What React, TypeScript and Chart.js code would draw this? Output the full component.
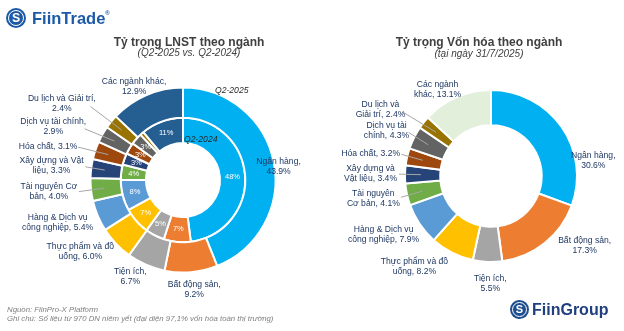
import React, { useEffect, useRef } from "react";
import { Chart, registerables } from "chart.js";

Chart.register(...registerables);

// ---------- data ----------
const sectors = [
  "Ngân hàng",
  "Bất động sản",
  "Tiện ích",
  "Thực phẩm và đồ uống",
  "Hàng & Dịch vụ công nghiệp",
  "Tài nguyên Cơ bản",
  "Xây dựng và Vật liệu",
  "Hóa chất",
  "Dịch vụ tài chính",
  "Du lịch và Giải trí",
  "Các ngành khác",
];
const lnstQ2_2025 = [43.9, 9.2, 6.7, 6.0, 5.4, 4.0, 3.3, 3.1, 2.9, 2.4, 12.9];
const lnstQ2_2024 = [48, 7, 5, 7, 8, 4, 3, 3, 3, 1, 11];
const vonHoa = [30.6, 17.3, 5.5, 8.2, 7.9, 4.1, 3.4, 3.2, 4.3, 2.4, 13.1];

// label texts as wrapped in the picture (value is appended)
const lnstLabelNames = [
  "Ngân hàng,\n",
  "Bất động sản,\n",
  "Tiện ích,\n",
  "Thực phẩm và đồ\nuống, ",
  "Hàng & Dịch vụ\ncông nghiệp, ",
  "Tài nguyên Cơ\nbản, ",
  "Xây dựng và Vật\nliệu, ",
  "Hóa chất, ",
  "Dịch vụ tài chính,\n",
  "Du lịch và Giải trí,\n",
  "Các ngành khác,\n",
];
const vonHoaLabelNames = [
  "Ngân hàng,\n",
  "Bất động sản,\n",
  "Tiện ích,\n",
  "Thực phẩm và đồ\nuống, ",
  "Hàng & Dịch vụ\ncông nghiệp, ",
  "Tài nguyên\nCơ bản, ",
  "Xây dựng và\nVật liệu, ",
  "Hóa chất, ",
  "Dịch vụ tài\nchính, ",
  "Du lịch và\nGiải trí, ",
  "Các ngành\nkhác, ",
];

const sectorColors = [
  "#00B0F0",
  "#ED7D31",
  "#A5A5A5",
  "#FFC000",
  "#5B9BD5",
  "#70AD47",
  "#264478",
  "#9E480E",
  "#636363",
  "#997300",
];
const otherColorLNST = "#255E91";
const otherColorVonHoa = "#E2EFDA";

// label placement tweaks (by slice index): [angle shift in degrees, radial shift in px]
const lnstLabelNudges: Record<number, [number, number]> = {
  0: [2, -26],
  2: [3.7, -2],
  3: [3.4, 0],
  5: [0, 6],
  7: [-2, 11],
  8: [-3.5, 11],
  9: [-2.3, 17],
  10: [0, -9],
};
const vonHoaLabelNudges: Record<number, [number, number]> = {
  0: [25.5, -12.5],
  1: [-10.6, 3],
  2: [-2, 4],
  3: [7.8, 6.5],
  9: [-4.5, 14.5],
  10: [-5, -6],
};

const FONT = '"Liberation Sans", Arial, sans-serif';
const LABEL_COLOR = "#1F3864";

// ---------- label plugin ----------
const sliceLabels = {
  id: "sliceLabels",
  afterDraw(chart: any, _args: any, o: any) {
    if (!o || !o.names) return;
    const ctx = chart.ctx as CanvasRenderingContext2D;
    const meta = chart.getDatasetMeta(0);
    const values = chart.data.datasets[0].data as number[];
    ctx.save();
    ctx.font = `${o.fontSize}px ${FONT}`;
    const items = meta.data.map((arc: any, i: number) => {
      const p = arc.getProps(
        ["x", "y", "startAngle", "endAngle", "outerRadius", "innerRadius"],
        true
      );
      const mid = (p.startAngle + p.endAngle) / 2;
      const nudge = (o.nudges && o.nudges[i]) || [0, 0];
      const la = mid + nudge[0] * (Math.PI / 180);
      const ux = Math.cos(la);
      const uy = Math.sin(la);
      const lines = (o.names[i] + values[i].toFixed(1) + "%").split("\n");
      const w = Math.max(...lines.map((l: string) => ctx.measureText(l).width));
      const h = lines.length * o.lineHeight;
      const d = p.outerRadius + o.pad + nudge[1];
      let cx = p.x + d * ux + (w / 2) * ux;
      let cy = p.y + d * uy + (h / 2) * uy;
      if (o.maxX != null && cx + w / 2 > o.maxX) cx = o.maxX - w / 2;
      return { ...p, mid, ux, uy, w, h, cx, cy, lines, value: values[i] };
    });
    // simple vertical overlap resolution
    for (let iter = 0; iter < 30; iter++) {
      let moved = false;
      for (let a = 0; a < items.length; a++) {
        for (let b = a + 1; b < items.length; b++) {
          const A = items[a];
          const B = items[b];
          const ox =
            Math.min(A.cx + A.w / 2, B.cx + B.w / 2) -
            Math.max(A.cx - A.w / 2, B.cx - B.w / 2);
          const oy =
            Math.min(A.cy + A.h / 2, B.cy + B.h / 2) -
            Math.max(A.cy - A.h / 2, B.cy - B.h / 2);
          if (ox > 0 && oy > -1) {
            const dd = (oy + 1) / 2;
            if (A.cy < B.cy) {
              A.cy -= dd;
              B.cy += dd;
            } else {
              A.cy += dd;
              B.cy -= dd;
            }
            moved = true;
          }
        }
      }
      if (!moved) break;
    }
    // leader lines
    ctx.strokeStyle = o.leaderColor;
    ctx.lineWidth = 1;
    items.forEach((it: any) => {
      if (it.value >= o.leaderBelow) return;
      const sx = it.cx - (it.w / 2 + 2) * it.ux;
      const sy = it.cy - (it.h / 2) * it.uy * 0.5;
      const r = it.outerRadius - (it.outerRadius - it.innerRadius) * 0.45;
      const ex = it.x + r * Math.cos(it.mid);
      const ey = it.y + r * Math.sin(it.mid);
      ctx.beginPath();
      ctx.moveTo(sx, sy);
      ctx.lineTo(ex, ey);
      ctx.stroke();
    });
    // label text
    ctx.fillStyle = o.color;
    ctx.textAlign = "center";
    ctx.textBaseline = "middle";
    items.forEach((it: any) => {
      it.lines.forEach((l: string, k: number) => {
        ctx.fillText(l, it.cx, it.cy - it.h / 2 + o.lineHeight * (k + 0.5));
      });
    });
    // inner ring values
    if (o.innerDataset != null) {
      const m1 = chart.getDatasetMeta(o.innerDataset);
      const v1 = chart.data.datasets[o.innerDataset].data as number[];
      ctx.font = `${o.innerFontSize}px ${FONT}`;
      ctx.fillStyle = "#FFFFFF";
      m1.data.forEach((arc: any, i: number) => {
        if (v1[i] < 2) return;
        const p = arc.getProps(
          ["x", "y", "startAngle", "endAngle", "outerRadius", "innerRadius"],
          true
        );
        const a = (p.startAngle + p.endAngle) / 2;
        const r = (p.outerRadius + p.innerRadius) / 2;
        ctx.fillText(v1[i] + "%", p.x + r * Math.cos(a), p.y + r * Math.sin(a));
      });
    }
    // ring tags
    if (o.ringTags) {
      const p0 = meta.data[0].getProps(["x", "y", "outerRadius"], true);
      const m1 = chart.getDatasetMeta(1);
      const p1 = m1.data[0].getProps(["innerRadius"], true);
      ctx.font = `italic ${o.fontSize}px ${FONT}`;
      ctx.fillStyle = "#262626";
      ctx.textAlign = "left";
      ctx.fillText(o.ringTags[0], p0.x + p0.outerRadius * 0.346, p0.y - p0.outerRadius + 3.5);
      ctx.fillText(o.ringTags[1], p0.x + 1, p0.y - p1.innerRadius - 3);
    }
    ctx.restore();
  },
};

export default function App() {
  const leftRef = useRef<HTMLCanvasElement | null>(null);
  const rightRef = useRef<HTMLCanvasElement | null>(null);

  useEffect(() => {
    const leftColors = [...sectorColors, otherColorLNST];
    const rightColors = [...sectorColors, otherColorVonHoa];
    const common = {
      responsive: false,
      animation: false,
      events: [],
      rotation: 0,
    };
    const labelCommon = {
      pad: 8,
      fontSize: 8.6,
      lineHeight: 10,
      color: LABEL_COLOR,
      leaderBelow: 4.5,
      leaderColor: "#A6A6A6",
    };
    const left = new Chart(leftRef.current!, {
      type: "doughnut",
      data: {
        labels: sectors,
        datasets: [
          {
            label: "Q2-2025",
            data: lnstQ2_2025,
            backgroundColor: leftColors,
            borderColor: "#FFFFFF",
            borderWidth: 2,
            weight: 30,
          },
          {
            label: "Q2-2024",
            data: lnstQ2_2024,
            backgroundColor: leftColors,
            borderColor: "#FFFFFF",
            borderWidth: 2,
            weight: 25,
          },
        ],
      },
      options: {
        ...common,
        radius: 92.5,
        cutout: "40%",
        layout: { padding: { left: 0, right: 258, top: 29, bottom: 0 } },
        plugins: {
          legend: { display: false },
          tooltip: { enabled: false },
          sliceLabels: {
            ...labelCommon,
            names: lnstLabelNames,
            nudges: lnstLabelNudges,
            maxX: 302,
            innerDataset: 1,
            innerFontSize: 7.5,
            ringTags: ["Q2-2025", "Q2-2024"],
          },
        },
      } as any,
      plugins: [sliceLabels],
    } as any);
    const right = new Chart(rightRef.current!, {
      type: "doughnut",
      data: {
        labels: sectors,
        datasets: [
          {
            label: "Vốn hóa",
            data: vonHoa,
            backgroundColor: rightColors,
            borderColor: "#FFFFFF",
            borderWidth: 2,
          },
        ],
      },
      options: {
        ...common,
        radius: 86,
        cutout: "59%",
        layout: { padding: { left: 358, right: 0, top: 21, bottom: 0 } },
        plugins: {
          legend: { display: false },
          tooltip: { enabled: false },
          sliceLabels: {
            ...labelCommon,
            names: vonHoaLabelNames,
            nudges: vonHoaLabelNudges,
            maxX: 620,
          },
        },
      } as any,
      plugins: [sliceLabels],
    } as any);
    return () => {
      left.destroy();
      right.destroy();
    };
  }, []);

  const abs = (s: any) => ({ position: "absolute" as const, ...s });

  return (
    <div
      style={{
        position: "fixed",
        left: 0,
        top: 0,
        width: 624,
        height: 331,
        background: "#FFFFFF",
        overflow: "hidden",
        fontFamily: FONT,
      }}
    >
      <canvas ref={leftRef} width={624} height={331} style={abs({ left: 0, top: 0 })} />
      <canvas ref={rightRef} width={624} height={331} style={abs({ left: 0, top: 0 })} />

      {/* FiinTrade logo */}
      <div
        style={abs({
          left: 6,
          top: 8,
          width: 20,
          height: 20,
          borderRadius: "50%",
          background: "#1C5AA8",
          display: "flex",
          alignItems: "center",
          justifyContent: "center",
        })}
      >
        <div
          style={{
            width: 14,
            height: 14,
            borderRadius: "50%",
            border: "1.5px solid #FFFFFF",
            color: "#FFFFFF",
            fontWeight: 700,
            fontSize: 12,
            lineHeight: "14px",
            textAlign: "center",
          }}
        >
          S
        </div>
      </div>
      <div
        style={abs({
          left: 32,
          top: 8,
          fontSize: 16.5,
          fontWeight: 700,
          color: "#1C5AA8",
          lineHeight: "20px",
          whiteSpace: "nowrap",
        })}
      >
        FiinTrade<span style={{ fontSize: 6, verticalAlign: "top", lineHeight: "10px" }}>®</span>
      </div>

      {/* Titles */}
      <div
        style={abs({
          left: 39,
          width: 300,
          top: 35,
          textAlign: "center",
          fontSize: 12,
          fontWeight: 700,
          color: "#404040",
          lineHeight: "15px",
        })}
      >
        Tỷ trọng LNST theo ngành
      </div>
      <div
        style={abs({
          left: 39,
          width: 300,
          top: 47,
          textAlign: "center",
          fontSize: 10,
          fontStyle: "italic",
          color: "#404040",
          lineHeight: "12px",
        })}
      >
        (Q2-2025 vs. Q2-2024)
      </div>
      <div
        style={abs({
          left: 329,
          width: 300,
          top: 35,
          textAlign: "center",
          fontSize: 12,
          fontWeight: 700,
          color: "#404040",
          lineHeight: "15px",
        })}
      >
        Tỷ trọng Vốn hóa theo ngành
      </div>
      <div
        style={abs({
          left: 329,
          width: 300,
          top: 48,
          textAlign: "center",
          fontSize: 10,
          fontStyle: "italic",
          color: "#404040",
          lineHeight: "12px",
        })}
      >
        (tại ngày 31/7/2025)
      </div>

      {/* Footer */}
      <div
        style={abs({
          left: 7,
          top: 305,
          fontSize: 7.8,
          fontStyle: "italic",
          color: "#808080",
          lineHeight: "9px",
          whiteSpace: "nowrap",
        })}
      >
        Nguồn: FiinPro-X Platform
        <br />
        Ghi chú: Số liệu từ 970 DN niêm yết (đại diện 97,1% vốn hóa toàn thị trường)
      </div>

      {/* FiinGroup logo */}
      <div
        style={abs({
          left: 510,
          top: 300,
          width: 19,
          height: 19,
          borderRadius: "50%",
          background: "#1F4E8F",
          display: "flex",
          alignItems: "center",
          justifyContent: "center",
        })}
      >
        <div
          style={{
            width: 13,
            height: 13,
            borderRadius: "50%",
            border: "1.5px solid #FFFFFF",
            color: "#FFFFFF",
            fontWeight: 700,
            fontSize: 11,
            lineHeight: "13px",
            textAlign: "center",
          }}
        >
          S
        </div>
      </div>
      <div
        style={abs({
          left: 532,
          top: 300,
          fontSize: 16,
          fontWeight: 700,
          color: "#1F3F7F",
          lineHeight: "20px",
          whiteSpace: "nowrap",
        })}
      >
        FiinGroup
      </div>
    </div>
  );
}
